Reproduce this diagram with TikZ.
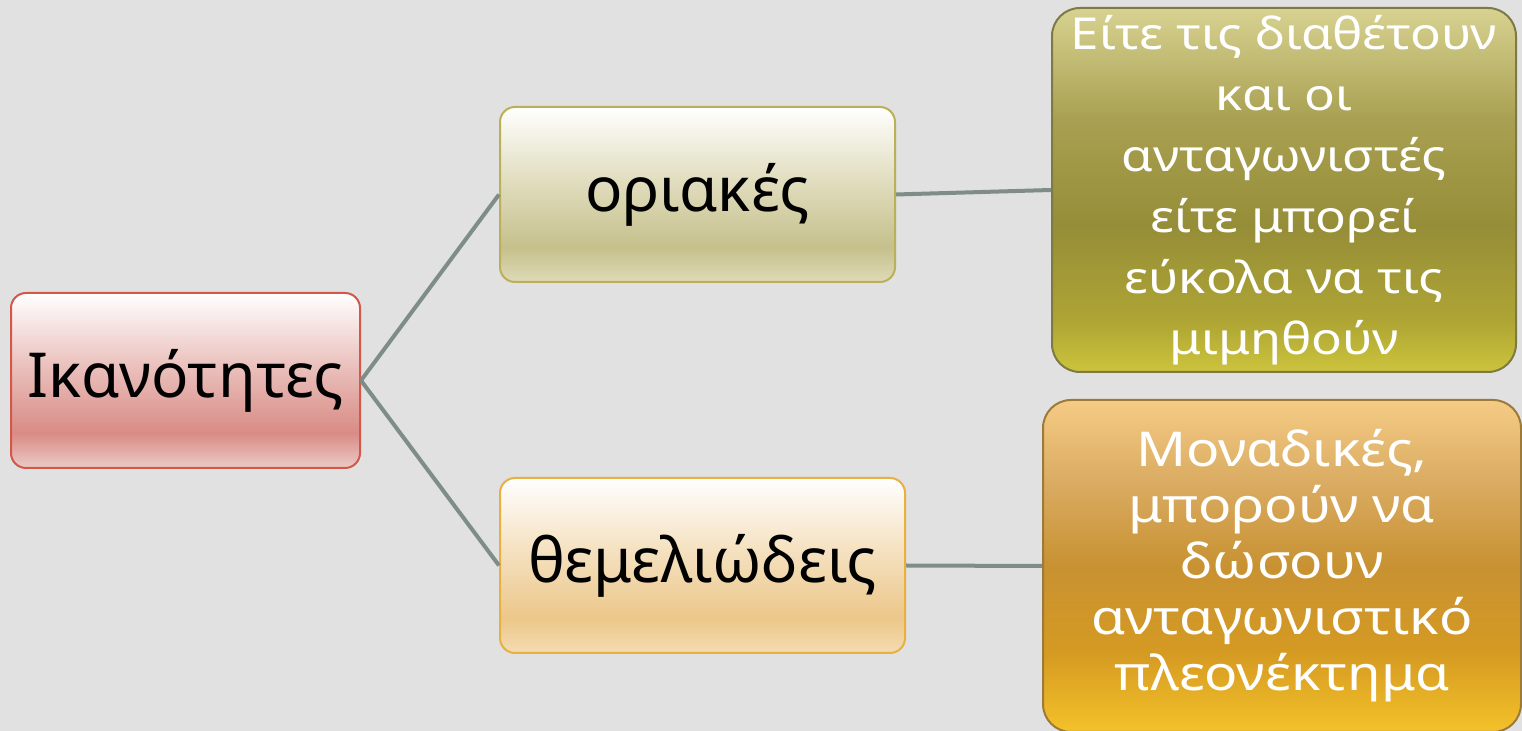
\documentclass[tikz,border=0pt]{standalone}
\usepackage{fontspec}
\setmainfont{Noto Sans}
\newfontfamily\widetr{Noto Sans}[FakeStretch=1.16]
\newfontfamily\widebr{Noto Sans}[FakeStretch=1.15]
\definecolor{bg}{HTML}{E1E1E1}
\definecolor{conn}{HTML}{7E8E86}
\definecolor{ikBd}{HTML}{D4584A}
\definecolor{orBd}{HTML}{BAB05A}
\definecolor{thBd}{HTML}{E8B040}
\definecolor{trBd}{HTML}{7D7A44}
\definecolor{brBd}{HTML}{9C7A3A}
\definecolor{ikB}{HTML}{EBCBC7}\definecolor{ikM}{HTML}{D98B85}\definecolor{ikU}{HTML}{EBC3BF}
\definecolor{orB}{HTML}{DEDAB8}\definecolor{orM}{HTML}{C6C08C}\definecolor{orU}{HTML}{E2DFC2}
\definecolor{thB}{HTML}{F4DCB0}\definecolor{thM}{HTML}{ECC78A}\definecolor{thU}{HTML}{F5E2C2}
\definecolor{trA}{HTML}{CCC43C}\definecolor{trB}{HTML}{AEA535}\definecolor{trC}{HTML}{968D38}\definecolor{trD}{HTML}{A9A152}\definecolor{trE}{HTML}{D8D292}
\definecolor{brA}{HTML}{F4C22A}\definecolor{brB}{HTML}{D59A22}\definecolor{brC}{HTML}{C89232}\definecolor{brD}{HTML}{D9AA60}\definecolor{brE}{HTML}{F5CB85}
\pgfdeclareverticalshading{ikshade}{100bp}{color(0bp)=(ikB);color(25bp)=(ikB);color(35bp)=(ikM);color(55bp)=(ikU);color(75bp)=(white);color(100bp)=(white)}
\pgfdeclareverticalshading{orshade}{100bp}{color(0bp)=(orB);color(25bp)=(orB);color(35bp)=(orM);color(55bp)=(orU);color(75bp)=(white);color(100bp)=(white)}
\pgfdeclareverticalshading{thshade}{100bp}{color(0bp)=(thB);color(25bp)=(thB);color(35bp)=(thM);color(55bp)=(thU);color(75bp)=(white);color(100bp)=(white)}
\pgfdeclareverticalshading{trshade}{100bp}{color(0bp)=(trA);color(25bp)=(trA);color(32bp)=(trB);color(45bp)=(trC);color(60bp)=(trD);color(75bp)=(trE);color(100bp)=(trE)}
\pgfdeclareverticalshading{brshade}{100bp}{color(0bp)=(brA);color(25bp)=(brA);color(37bp)=(brB);color(50bp)=(brC);color(62bp)=(brD);color(75bp)=(brE);color(100bp)=(brE)}
\tikzset{
  midbox/.style={rounded corners=7.5pt, line width=1pt, inner sep=0pt, align=center,
    font=\fontsize{31}{37}\selectfont, text=black},
  bigbox/.style={rounded corners=14pt, line width=1pt, inner sep=0pt, align=center, text=white},
  connector/.style={draw=conn, line width=2pt}
}
\begin{document}
\begin{tikzpicture}[x=0.5pt,y=-0.5pt]
\fill[bg] (0,0) rectangle (1522,731);
\useasboundingbox (0,0) rectangle (1522,731);
\node[midbox, draw=ikBd, shading=ikshade, minimum width=174.5pt, minimum height=87.5pt] (ik) at (185.5,380.5) {Ικανότητες};
\node[midbox, draw=orBd, shading=orshade, minimum width=197.5pt, minimum height=87.5pt] (or) at (697.5,194.5) {οριακές};
\node[midbox, draw=thBd, shading=thshade, minimum width=202.5pt, minimum height=87.5pt] (th) at (702.5,565.5) {θεμελιώδεις};
\node[bigbox, draw=trBd, shading=trshade, minimum width=232pt, minimum height=182pt, font=\widetr\fontsize{22}{30.5}\selectfont] (tr) at (1284,190) {Είτε τις διαθέτουν\\και οι\\ανταγωνιστές\\είτε μπορεί\\εύκολα να τις\\μιμηθούν};
\node[bigbox, draw=brBd, shading=brshade, minimum width=239pt, minimum height=166pt, font=\widebr\fontsize{24}{28}\selectfont] (br) at (1282,566) {Μοναδικές,\\μπορούν να\\δώσουν\\ανταγωνιστικό\\πλεονέκτημα};
\draw[connector] (ik.east) -- (or.west);
\draw[connector] (ik.east) -- (th.west);
\draw[connector] (or.east) -- (tr.west);
\draw[connector] (th.east) -- (br.west);
\end{tikzpicture}
\end{document}
